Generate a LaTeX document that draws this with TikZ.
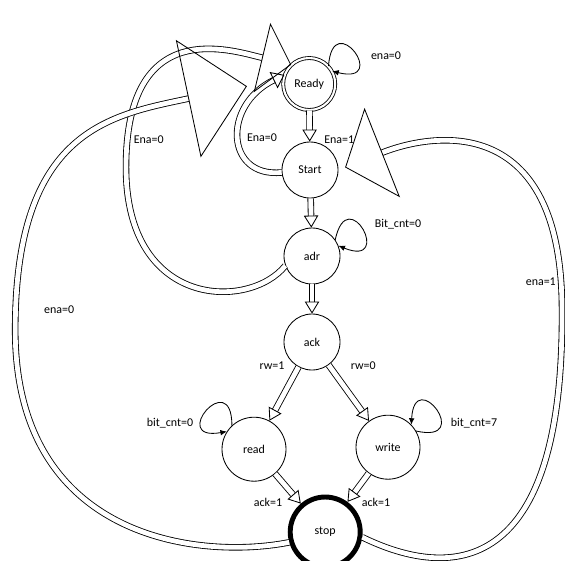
\documentclass[tikz,border=0pt]{standalone}
\usepackage{fontspec}
\setmainfont{Carlito}
\usetikzlibrary{arrows.meta}

\begin{document}
\begin{tikzpicture}
	[
	font=\fontsize{8.5}{10}\selectfont,
	line width=0.6pt,
	state/.style={circle, draw, inner sep=0pt, minimum size=1.4cm},
	cond/.style={inner sep=1pt},
	block/.style={double, double distance=1.2mm, -{Triangle[open, length=0.3cm, width=0.36cm]}},
	selfloop/.style={-{Latex[length=1.6mm, width=1.4mm]}, distance=1.5cm},
	]
		\path[use as bounding box, fill=white] (0,0) rectangle (14.125,-14.0);

		% states
		\node[state, double, double distance=1.5pt, minimum size=1.3cm] (ready) at ( 7.73,  -2.10 ) {Ready};
		\node[state] (start) at 		( 7.75,  -4.25 ) {Start};
		\node[state] (adr) at 		( 7.80,  -6.40 ) {adr};
		\node[state] (ack) at 		( 7.80,  -8.55 ) {ack};
		\node[state, minimum size=1.6cm] (read) at 	( 6.35, -11.23 ) {read};
		\node[state, minimum size=1.6cm] (write) at 	( 9.70, -11.18 ) {write};
		\node[state, line width=3.5pt, minimum size=1.75cm] (stop) at ( 8.13, -13.30 ) {stop};

		% conditions
		\node[cond] (c-rs) at 		( 8.48,  -3.48 ) {Ena=1};
		\node[cond] (c-sr) at 		( 6.55,  -3.45 ) {Ena=0};
		\node[cond] (c-ar) at 		( 3.72,  -3.48 ) {Ena=0};
		\node[cond] (c-tr) at 		( 1.48,  -7.73 ) {ena=0};
		\node[cond] (c-ts) at 		(13.52,  -7.03 ) {ena=1};
		\node[cond] (c-rr) at 		( 9.65,  -1.38 ) {ena=0};
		\node[cond] (c-aa) at 		( 9.95,  -5.60 ) {Bit\_cnt=0};
		\node[cond] (c-kr) at 		( 6.80,  -9.13 ) {rw=1};
		\node[cond] (c-kw) at 		( 9.08,  -9.13 ) {rw=0};
		\node[cond] (c-dd) at 		( 4.25, -10.58 ) {bit\_cnt=0};
		\node[cond] (c-ww) at 		(11.85, -10.58 ) {bit\_cnt=7};
		\node[cond] (c-dt) at 		( 6.70, -12.55 ) {ack=1};
		\node[cond] (c-wt) at 		( 9.40, -12.55 ) {ack=1};

		% forward transitions
		\foreach \from/\to in {ready/start,start/adr,adr/ack,ack/read,ack/write,read/stop,write/stop} \draw[block] (\from) -- (\to);

		% back to ready / start
		\draw[block, -{Triangle[open, length=0.3cm, width=0.45cm]}] (start.185) .. controls (5.63,-4.45) and (5.55,-2.63) .. (ready.160);
		\draw[block, -{Triangle[open, length=0.75cm, width=1.78cm]}] (adr.200) .. controls (6.25,-7.75) and (3.15,-7.75) .. (3.15,-4.18) .. controls (3.15,-0.38) and (5.75,-1.25) .. (ready.133);
		\draw[block, -{Triangle[open, length=1.5cm, width=3.0cm]}, shorten >=0.93cm] (stop.196) .. controls (5.00,-14.00) and (0.38,-13.50) .. (0.38,-8.25) .. controls (0.38,-3.25) and (2.75,-2.88) .. (ready.168);
		\draw[block, -{Triangle[open, length=1.0cm, width=2.4cm]}, shorten >=0.18cm] (stop.-8) .. controls (11.00,-14.38) and (14.10,-14.75) .. (14.05,-7.75) .. controls (14.05,-2.75) and (10.78,-3.33) .. (start.0);

		% self loops
		\draw[selfloop] (ready.43) to[out=86, in=-14] (ready.29);
		\draw[selfloop] (adr.35) to[out=78, in=-22] (adr.21);
		\draw[selfloop] (read.133) to[out=90, in=190] (read.147);
		\draw[selfloop] (write.30) to[out=-13, in=87] (write.44);

	\end{tikzpicture}
\end{document}
